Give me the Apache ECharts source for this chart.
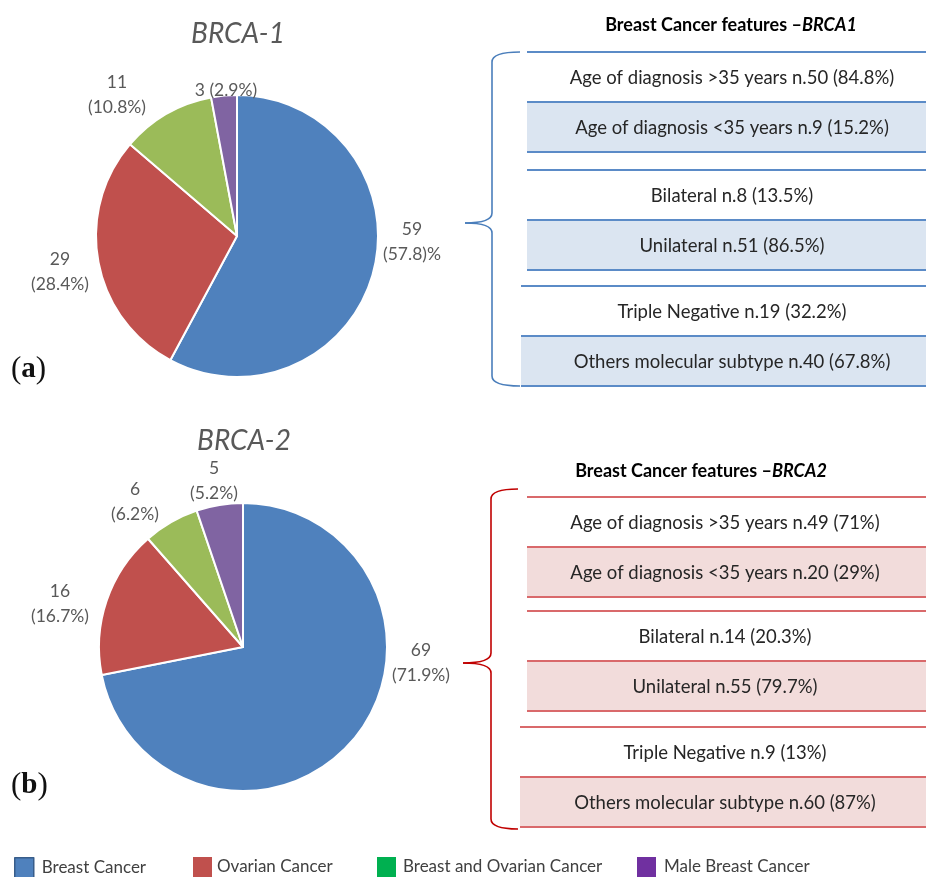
<!DOCTYPE html>
<html>
<head>
<meta charset="utf-8">
<script src="https://cdn.jsdelivr.net/npm/echarts@6/dist/echarts.min.js"></script>
<style>
  html, body { margin: 0; padding: 0; background: #ffffff; }
  #chart { width: 926px; height: 877px; }
</style>
</head>
<body>
<div id="chart"></div>
<script>
// Diagnosis categories shared by both pies
const categories = ['Breast Cancer', 'Ovarian Cancer', 'Breast and Ovarian Cancer', 'Male Breast Cancer'];

// BRCA-1 carriers
const brca1Counts = [59, 29, 11, 3];
const brca1Percents = ['57.8', '28.4', '10.8', '2.9'];

// BRCA-2 carriers
const brca2Counts = [69, 16, 6, 5];
const brca2Percents = ['71.9', '16.7', '6.2', '5.2'];

// Breast cancer feature tables
const brca1Features = [
  'Age of diagnosis >35 years n.50 (84.8%)',
  'Age of diagnosis <35 years n.9 (15.2%)',
  'Bilateral n.8 (13.5%)',
  'Unilateral n.51 (86.5%)',
  'Triple Negative n.19 (32.2%)',
  'Others molecular subtype n.40 (67.8%)'
];
const brca2Features = [
  'Age of diagnosis >35 years n.49 (71%)',
  'Age of diagnosis <35 years n.20 (29%)',
  'Bilateral n.14 (20.3%)',
  'Unilateral n.55 (79.7%)',
  'Triple Negative n.9 (13%)',
  'Others molecular subtype n.60 (87%)'
];

// ---- styling ----
const FONT = 'Lato, "Open Sans", sans-serif';
const sliceColors = ['#4f81bd', '#c0504d', '#9bbb59', '#8064a2'];
const legendColors = ['#4f81bd', '#c0504d', '#00b050', '#7030a0'];
const legendLefts = [14, 193, 377, 637];
const legendTextPad = [3, 0, 2, 3];

// label formats per slice ({v} = count, {p} = percent)
const brca1LabelFormats = ['{v}\n({p})%', '{v}\n({p}%)', '{v}\n({p}%)', '{v} ({p}%)'];
const brca2LabelFormats = ['{v}\n({p}%)', '{v}\n({p}%)', '{v}\n({p}%)', '{v}\n({p}%)'];

const pieA = { center: [237, 236], radius: 141, labelOffsets: [[175, 6], [-177, 36], [-120, -141], [-11, -146]] };
const pieB = { center: [243, 647], radius: 144, labelOffsets: [[178, 16], [-183, -43], [-108, -145], [-29, -166]] };

function pieSeries(name, counts, percents, formats, geo) {
  return {
    type: 'pie',
    name: name,
    center: geo.center,
    radius: geo.radius,
    startAngle: 90,
    clockwise: true,
    avoidLabelOverlap: false,
    silent: true,
    data: categories.map((c, i) => ({ name: c, value: counts[i], itemStyle: { color: sliceColors[i] } })),
    itemStyle: { borderColor: '#ffffff', borderWidth: 2 },
    label: {
      show: true,
      position: 'outside',
      color: '#595959',
      fontFamily: FONT,
      fontSize: 17.5,
      lineHeight: 25,
      formatter: p => formats[p.dataIndex].replace('{v}', p.value).replace('{p}', percents[p.dataIndex])
    },
    labelLine: { show: false },
    labelLayout: p => ({
      x: geo.center[0] + geo.labelOffsets[p.dataIndex][0],
      y: geo.center[1] + geo.labelOffsets[p.dataIndex][1],
      align: 'center',
      verticalAlign: 'middle'
    })
  };
}

// ---- feature tables drawn as graphic elements ----
function braceElements(b, color) {
  const st = { stroke: color, lineWidth: 1.6, fill: null };
  const mk = shape => ({ type: 'bezierCurve', shape: shape, style: st, silent: true });
  return [
    mk({ x1: b.endX, y1: b.top, cpx1: b.x, cpy1: b.top, x2: b.x, y2: b.top + 10 }),
    { type: 'line', shape: { x1: b.x, y1: b.top + 10, x2: b.x, y2: b.mid - 10 }, style: st, silent: true },
    mk({ x1: b.x, y1: b.mid - 10, cpx1: b.x, cpy1: b.mid, x2: b.tipX, y2: b.mid }),
    mk({ x1: b.tipX, y1: b.mid, cpx1: b.x, cpy1: b.mid, x2: b.x, y2: b.mid + 10 }),
    { type: 'line', shape: { x1: b.x, y1: b.mid + 10, x2: b.x, y2: b.bottom - 10 }, style: st, silent: true },
    mk({ x1: b.x, y1: b.bottom - 10, cpx1: b.x, cpy1: b.bottom, x2: b.endX, y2: b.bottom })
  ];
}

function featureTable(features, t) {
  const els = [];
  for (let g = 0; g < 3; g++) {
    const top = t.groupTops[g];
    const left = t.lefts[g];
    // shaded second row
    els.push({ type: 'rect', shape: { x: left, y: top + t.rowH, width: t.right - left, height: t.rowH },
      style: { fill: t.fill }, silent: true });
    for (let k = 0; k < 3; k++) {
      const y = top + k * t.rowH;
      els.push({ type: 'line', shape: { x1: left, y1: y, x2: t.right, y2: y },
        style: { stroke: t.lineColor, lineWidth: 2 }, silent: true });
    }
    for (let k = 0; k < 2; k++) {
      els.push({ type: 'text', x: t.textX, y: top + k * t.rowH + t.rowH / 2 + 1, silent: true,
        style: { text: features[g * 2 + k], fill: '#262626', font: '18.5px ' + FONT,
          textAlign: 'center', textVerticalAlign: 'middle' } });
    }
  }
  // header
  els.push({ type: 'text', x: t.headX, y: t.headY, silent: true,
    style: {
      text: '{b|Breast Cancer features –}{i|' + t.gene + '}',
      textAlign: 'center', textVerticalAlign: 'middle',
      rich: {
        b: { fontFamily: FONT, fontWeight: 'bold', fontSize: 18, fill: '#000' },
        i: { fontFamily: FONT, fontWeight: 'bold', fontStyle: 'italic', fontSize: 18, fill: '#000' }
      }
    } });
  return els.concat(braceElements(t.brace, t.braceColor));
}

const tableA = {
  groupTops: [52, 170, 286], rowH: 50, lefts: [527, 527, 521], right: 926, textX: 732,
  lineColor: '#5b8bc7', fill: '#dbe5f1', headX: 731, headY: 25, gene: 'BRCA1',
  brace: { endX: 520, x: 492, tipX: 465, top: 52, mid: 223, bottom: 386 }, braceColor: '#4a7ebb'
};
const tableB = {
  groupTops: [497, 611, 727], rowH: 50, lefts: [527, 527, 520], right: 926, textX: 725,
  lineColor: '#d9696b', fill: '#f2dcdb', headX: 701, headY: 471, gene: 'BRCA2',
  brace: { endX: 518, x: 491, tipX: 463, top: 489, mid: 663, bottom: 829 }, braceColor: '#c00000'
};

const panelTags = [
  { tag: 'a', x: 11, y: 370 },
  { tag: 'b', x: 11, y: 786 }
];

const graphics = []
  .concat(featureTable(brca1Features, tableA))
  .concat(featureTable(brca2Features, tableB))
  .concat(panelTags.map(p => ({
    type: 'text', x: p.x, y: p.y, silent: true,
    style: {
      text: '{p|(}{t|' + p.tag + '}{p|)}', textVerticalAlign: 'middle',
      rich: {
        p: { fontFamily: '"Liberation Serif", serif', fontSize: 31, fill: '#111', verticalAlign: 'middle' },
        t: { fontFamily: '"Liberation Serif", serif', fontSize: 29, fontWeight: 'bold', fill: '#111', verticalAlign: 'middle' }
      }
    }
  })));

const chart = echarts.init(document.getElementById('chart'), null, { renderer: 'canvas' });
chart.setOption({
  animation: false,
  backgroundColor: '#ffffff',
  title: [
    { text: 'BRCA-1', left: 233, top: 15, textAlign: 'center',
      textStyle: { fontFamily: FONT, fontStyle: 'italic', fontWeight: 'normal', fontSize: 28, color: '#595959' } },
    { text: 'BRCA-2', left: 239, top: 422, textAlign: 'center',
      textStyle: { fontFamily: FONT, fontStyle: 'italic', fontWeight: 'normal', fontSize: 28, color: '#595959' } }
  ],
  legend: categories.map((name, i) => ({
    data: [{ name: name, icon: 'rect',
      itemStyle: { color: legendColors[i], borderColor: i === 0 ? '#385d8a' : legendColors[i], borderWidth: i === 0 ? 1.5 : 0 } }],
    left: legendLefts[i], top: 857, padding: 0,
    itemWidth: 19, itemHeight: 20, selectedMode: false,
    textStyle: { fontFamily: FONT, fontSize: 17, color: '#404040', padding: [6, 0, 0, legendTextPad[i]] }
  })),
  series: [
    pieSeries('BRCA-1', brca1Counts, brca1Percents, brca1LabelFormats, pieA),
    pieSeries('BRCA-2', brca2Counts, brca2Percents, brca2LabelFormats, pieB)
  ],
  graphic: { elements: graphics }
});
</script>
</body>
</html>
